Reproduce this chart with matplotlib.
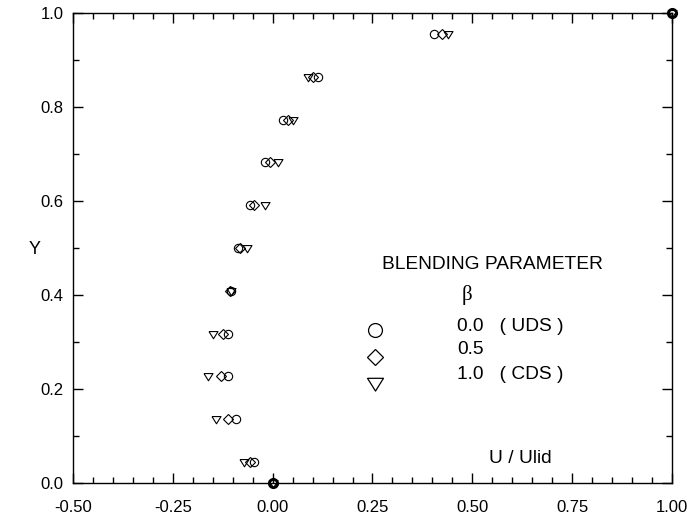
import matplotlib
matplotlib.use("Agg")
import matplotlib.pyplot as plt
from matplotlib.ticker import MultipleLocator

plt.rcParams['font.family'] = ['Liberation Sans', 'DejaVu Sans']
plt.rcParams['axes.unicode_minus'] = False

# vertical positions (cell centres plus the two walls)
y_pos = [0.0, 0.045, 0.136, 0.227, 0.318, 0.409, 0.5, 0.591, 0.682, 0.773, 0.864, 0.955, 1.0]

# U / Ulid for each blending parameter
u_uds = [0.0, -0.047, -0.092, -0.111, -0.111, -0.105, -0.0875, -0.058, -0.019, 0.027, 0.113, 0.404, 1.0]
u_half = [0.0, -0.057, -0.111, -0.130, -0.125, -0.108, -0.083, -0.047, -0.007, 0.039, 0.102, 0.423, 1.0]
u_cds = [0.0, -0.071, -0.143, -0.161, -0.149, -0.104, -0.065, -0.019, 0.014, 0.052, 0.089, 0.440, 1.0]

x_ticks = [-0.50, -0.25, 0.00, 0.25, 0.50, 0.75, 1.00]
y_ticks = [0.0, 0.2, 0.4, 0.6, 0.8, 1.0]

# wide, flat down-triangle like the original
tri = [(-1.0, 0.65), (1.0, 0.65), (0.0, -0.95), (-1.0, 0.65)]

fig = plt.figure(figsize=(6.9, 5.18), dpi=100)
ax = fig.add_axes([0.1058, 0.0676, 0.8681, 0.9073])

mk = dict(linestyle='none', markerfacecolor='none', markeredgecolor='black',
          markeredgewidth=0.8, clip_on=False)
ax.plot(u_uds, y_pos, marker='o', markersize=6.0, **mk)
ax.plot(u_half, y_pos, marker='D', markersize=4.8, **mk)
ax.plot(u_cds, y_pos, marker=tri, markersize=6.5, **mk)
# walls drawn heavier, as in the original
ax.plot([u_uds[0], u_uds[-1]], [y_pos[0], y_pos[-1]], marker='o', markersize=6.0,
        linestyle='none', markerfacecolor='none', markeredgecolor='black',
        markeredgewidth=2.0, clip_on=False)

ax.set_xlim(-0.5, 1.0)
ax.set_ylim(0.0, 1.0)
ax.set_xticks(x_ticks)
ax.set_xticklabels(['%.2f' % v for v in x_ticks])
ax.set_yticks(y_ticks)
ax.set_yticklabels(['%.1f' % v for v in y_ticks])
ax.xaxis.set_minor_locator(MultipleLocator(0.05))
ax.yaxis.set_minor_locator(MultipleLocator(0.1))

ax.tick_params(which='both', direction='in', top=True, right=True, width=1.0,
               labelsize=12, colors='black')
ax.tick_params(which='major', length=7.5)
ax.tick_params(which='minor', length=4)
ax.tick_params(axis='x', pad=12)
ax.tick_params(axis='y', pad=7)
for s in ax.spines.values():
    s.set_linewidth(1.0)

ax.set_ylabel('Y', rotation=0, fontsize=13, va='center', ha='center')
ax.yaxis.set_label_coords(-0.064, 0.496)

# legend drawn by hand, as in the original
ax.text(0.700, 0.464, 'BLENDING PARAMETER', transform=ax.transAxes,
        fontsize=13.8, ha='center', va='center')
ax.text(0.658, 0.400, 'β', transform=ax.transAxes, fontsize=15,
        ha='center', va='center', family='Liberation Serif')
leg = dict(transform=ax.transAxes, linestyle='none', markerfacecolor='none',
           markeredgecolor='black', markeredgewidth=0.9, clip_on=False)
ax.plot([0.504], [0.3255], marker='o', markersize=10, **leg)
ax.plot([0.504], [0.268], marker='D', markersize=8, **leg)
ax.plot([0.504], [0.213], marker=tri, markersize=11.5, **leg)
ax.text(0.641, 0.332, '0.0   ( UDS )', transform=ax.transAxes, fontsize=13.8, va='center')
ax.text(0.641, 0.283, '0.5', transform=ax.transAxes, fontsize=13.8, va='center')
ax.text(0.641, 0.230, '1.0   ( CDS )', transform=ax.transAxes, fontsize=13.8, va='center')
ax.text(0.747, 0.053, 'U / Ulid', transform=ax.transAxes, fontsize=13.8,
        ha='center', va='center')

fig.savefig('out.png', dpi=100)
